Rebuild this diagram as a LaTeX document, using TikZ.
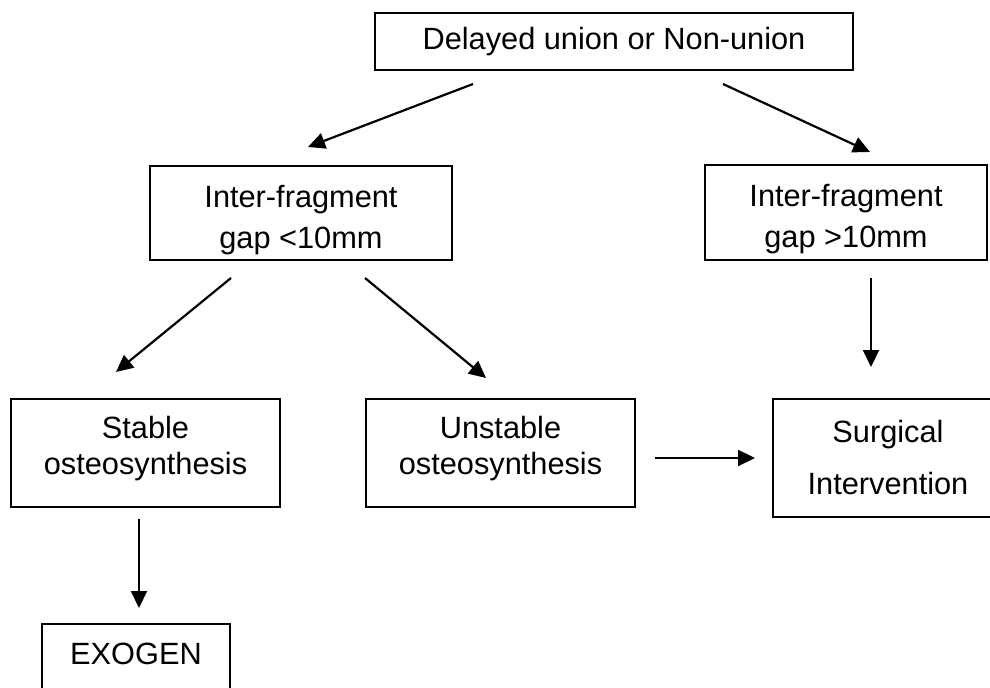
\documentclass[tikz,border=0pt]{standalone}
\usepackage{fontspec}
\setmainfont{Liberation Sans}
\usetikzlibrary{arrows.meta}
\tikzset{
    box/.style={draw, line width=0.9pt, align=center, inner sep=0pt,
        font=\fontsize{17.5}{20.5}\selectfont},
    link/.style={line width=1.25pt, -{Triangle[length=0.34cm,width=0.32cm]}},
}

\begin{document}
\begin{tikzpicture}[x=0.02cm, y=-0.02cm]
    \useasboundingbox (0,0) rectangle (990,688);
    % boxes
    \node[box, minimum width=9.56cm, minimum height=1.14cm] (Delayed) at (614,41.5) {Delayed union or Non-union};
    \node[box, minimum width=6.04cm, minimum height=1.88cm] (GapSmall) at (301,213) {\rule{0pt}{0.71cm}Inter-fragment\\[0.1cm]gap <10mm};
    \node[box, minimum width=5.64cm, minimum height=1.9cm] (GapLarge) at (846,212.5) {\rule{0pt}{0.71cm}Inter-fragment\\[0.1cm]gap >10mm};
    \node[box, minimum width=5.38cm, minimum height=2.16cm] (Stable) at (145.5,453) {Stable\\osteosynthesis\rule[-0.29cm]{0pt}{0.29cm}};
    \node[box, minimum width=5.38cm, minimum height=2.16cm] (Unstable) at (500.5,453) {Unstable\\osteosynthesis\rule[-0.29cm]{0pt}{0.29cm}};
    \node[box, minimum width=4.6cm, minimum height=2.36cm] (Surgical) at (888,458) {Surgical\\[0.32cm]Intervention};
    \node[box, anchor=north, minimum width=3.76cm, inner ysep=0.38cm, text height=0.44cm, text depth=0.9cm] (Exogen) at (136,623) {EXOGEN};
    % arrow ends
    \coordinate (DelayedL) at (473,84);
    \coordinate (DelayedR) at (723,84);
    \coordinate (GapSmallIn) at (308,147);
    \coordinate (GapLargeIn) at (870,152);
    \coordinate (GapSmallL) at (231,278);
    \coordinate (GapSmallR) at (365,278);
    \coordinate (GapLargeOut) at (871,278);
    \coordinate (StableIn) at (116,372);
    \coordinate (UnstableIn) at (486,378);
    \coordinate (SurgicalTop) at (871,367);
    \coordinate (UnstableOut) at (655,458);
    \coordinate (SurgicalIn) at (755,458);
    \coordinate (StableOut) at (139,519);
    \coordinate (ExogenIn) at (139,608);
    % arrows
    \draw[link] (DelayedL) -- (GapSmallIn);
    \draw[link] (DelayedR) -- (GapLargeIn);
    \draw[link] (GapSmallL) -- (StableIn);
    \draw[link] (GapSmallR) -- (UnstableIn);
    \draw[link] (GapLargeOut) -- (SurgicalTop);
    \draw[link] (UnstableOut) -- (SurgicalIn);
    \draw[link] (StableOut) -- (ExogenIn);
\end{tikzpicture}
\end{document}
